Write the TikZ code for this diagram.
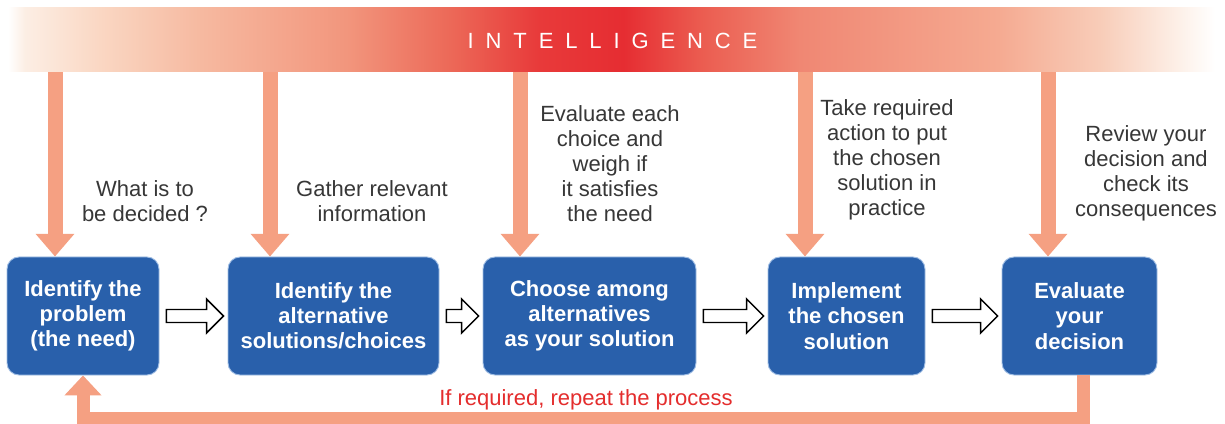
\documentclass[tikz,border=0pt]{standalone}
\usepackage{fontspec}
\setmainfont{Liberation Sans}
\newfontfamily\bandfont[LetterSpace=54]{Liberation Sans}
\usetikzlibrary{arrows.meta,calc}

\definecolor{boxblue}{RGB}{41,96,171}
\definecolor{boxedge}{RGB}{160,190,228}
\definecolor{salmon}{RGB}{245,160,130}
\definecolor{labelgray}{RGB}{55,55,55}
\definecolor{loopred}{RGB}{228,45,45}

% horizontal colour run of the top band: pale ends, red middle
% (TikZ maps a path onto the 25bp--75bp part of a shading)
\pgfdeclarehorizontalshading{intelband}{100bp}{
  color(0bp)=(white);
  color(25bp)=(white);
  color(25.7bp)=(rgb,255:red,252;green,238;blue,228);
  color(28.8bp)=(rgb,255:red,250;green,215;blue,195);
  color(33bp)=(rgb,255:red,246;green,185;blue,160);
  color(39bp)=(rgb,255:red,242;green,150;blue,125);
  color(43.3bp)=(rgb,255:red,236;green,105;blue,88);
  color(47bp)=(rgb,255:red,232;green,58;blue,58);
  color(50.5bp)=(rgb,255:red,230;green,45;blue,50);
  color(53.7bp)=(rgb,255:red,235;green,92;blue,80);
  color(57.8bp)=(rgb,255:red,240;green,135;blue,115);
  color(66bp)=(rgb,255:red,245;green,170;blue,145);
  color(70.3bp)=(rgb,255:red,248;green,205;blue,185);
  color(73.5bp)=(rgb,255:red,253;green,240;blue,232);
  color(75bp)=(white);
  color(100bp)=(white)}

\tikzset{
  band/.style={rectangle, shading=intelband, minimum width=905.25pt,
    minimum height=48pt, inner sep=0pt},
  bandtext/.style={text=white, inner sep=0pt,
    font=\bandfont\fontsize{16.5}{16.5}\selectfont},
  stepbox/.style={rectangle, rounded corners=9pt, fill=boxblue, draw=boxedge,
    line width=0.7pt, text=white, align=center, inner sep=0pt,
    minimum height=88.5pt,
    font=\bfseries\fontsize{16.5}{18.9}\selectfont},
  note/.style={align=center, text=labelgray, inner sep=0pt,
    font=\fontsize{16.5}{18.75}\selectfont},
  intel/.style={draw=salmon, line width=11.25pt,
    -{Triangle[width=28pt,length=17pt]}},
  loop/.style={draw=salmon, line width=9.75pt, line join=miter,
    -{Triangle[width=27pt,length=15pt]}},
  hollow/.style={draw=black, fill=white, line width=1.1pt, line join=miter}
}

\newcommand\hollowarrow[2]{%
  \draw[hollow] ($(#1.east)+(7,-6.5)$) -- ($(#2.west)+(-21,-6.5)$)
    -- ($(#2.west)+(-21,-17)$) -- ($(#2.west)+(-4,0)$)
    -- ($(#2.west)+(-21,17)$) -- ($(#2.west)+(-21,6.5)$)
    -- ($(#1.east)+(7,6.5)$) -- cycle;}

\begin{document}
\begin{tikzpicture}[x=0.75pt,y=-0.75pt]
\useasboundingbox (0,0) rectangle (1225,424);
\fill[white] (0,0) rectangle (1225,424);

% top band
\node[band] (banner) at (611.5,40) {};
\node[bandtext] (bandtitle) at (612.5,41) {INTELLIGENCE};

% process steps
\node[stepbox, minimum width=114pt]    (b1) at (83,316)    {Identify the\\problem\\(the need)};
\node[stepbox, minimum width=158.25pt] (b2) at (333.5,316) {Identify the\\alternative\\solutions/choices};
\node[stepbox, minimum width=159.75pt] (b3) at (589.5,316) {Choose among\\alternatives\\as your solution};
\node[stepbox, minimum width=117.75pt] (b4) at (846.5,316) {Implement\\the chosen\\solution};
\node[stepbox, minimum width=116.25pt] (b5) at (1079.5,316) {Evaluate\\your\\decision};

% notes above the steps
\node[note] (n1) at (145,201)  {What is to\\be decided ?};
\node[note] (n2) at (372,201)  {Gather relevant\\information};
\node[note] (n3) at (610,164)  {Evaluate each\\choice and\\weigh if\\it satisfies\\the need};
\node[note] (n4) at (887,160)  {Take required\\action to put\\the chosen\\solution in\\practice};
\node[note] (n5) at (1146,173) {Review your\\decision and\\check its\\consequences};

% arrow tips on the step tops
\coordinate (t1) at ($(b1.north)+(-28,0)$);
\coordinate (t2) at ($(b2.north)+(-63.5,0)$);
\coordinate (t3) at ($(b3.north)+(-69.5,0)$);
\coordinate (t4) at ($(b4.north)+(-41.5,0)$);
\coordinate (t5) at ($(b5.north)+(-31.5,0)$);
\foreach \t in {t1,t2,t3,t4,t5}
  \draw[intel] (banner.south -| \t) -- (\t);

% flow between steps
\hollowarrow{b1}{b2}
\hollowarrow{b2}{b3}
\hollowarrow{b3}{b4}
\hollowarrow{b4}{b5}

% feedback loop
\coordinate (fb) at (0,418.5);
\draw[loop] ($(b5.south)+(3.5,0)$) -- ($(b5.south |- fb)+(3.5,0)$)
  -- (b1.south |- fb) -- (b1.south);
\node[text=loopred, inner sep=0pt, font=\fontsize{16.5}{17}\selectfont]
  (lp) at (586,400) {If required, repeat the process};
\end{tikzpicture}
\end{document}
